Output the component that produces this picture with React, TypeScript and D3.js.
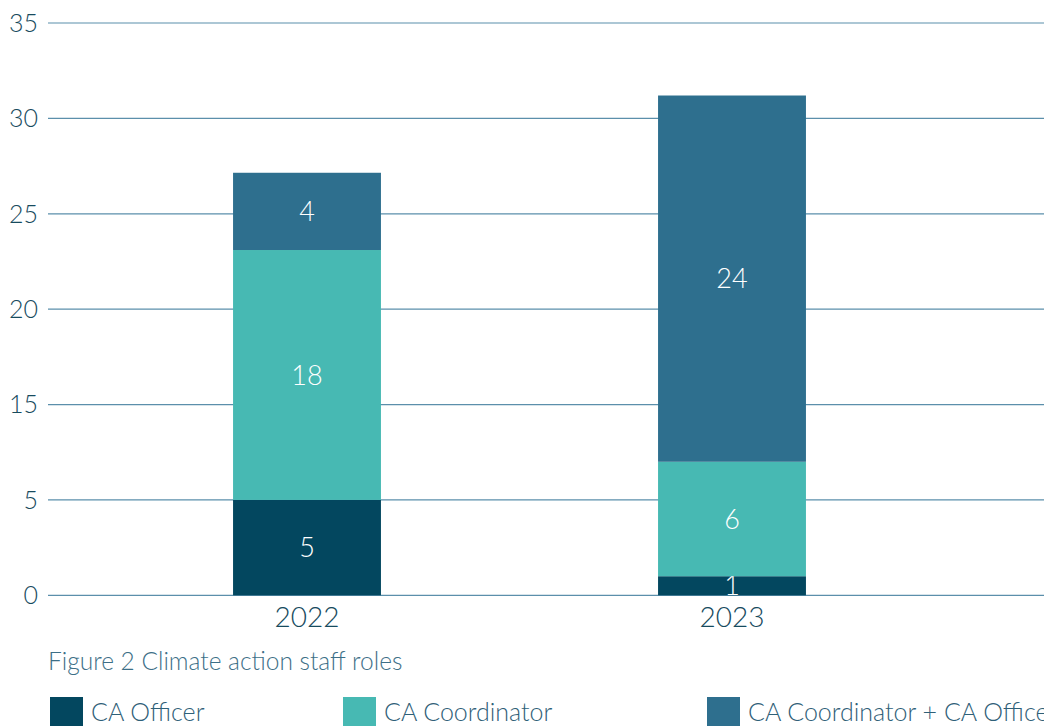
import React from "react";
import * as d3 from "d3";

const years = ["2022", "2023"];
const officer = [5, 1];
const coordinator = [18, 6];
const both = [4, 24];
const yTicks = [0, 5, 15, 20, 25, 30, 35];
const seriesNames = ["CA Officer", "CA Coordinator", "CA Coordinator + CA Officer"];
const seriesColors = ["#03475f", "#47b9b3", "#2e6f8e"];

const W = 1044;
const H = 726;
const y0 = 595.3;
const step = 95.38;
const FONT = "Lato, 'Open Sans', sans-serif";

export default function App() {
  // designer's broken axis: ticks evenly spaced although "10" is skipped
  const y = d3
    .scaleLinear()
    .domain([0, 7, 15, 35])
    .range([y0, y0 - 1.4 * step, y0 - 2 * step, y0 - 6.05 * step]);

  const x = d3
    .scaleBand<string>()
    .domain(years)
    .range([94.5, 944.5])
    .paddingInner(0.652)
    .paddingOuter(0.326);

  const rows = years.map((yr, i) => ({
    year: yr,
    officer: officer[i],
    coordinator: coordinator[i],
    both: both[i],
  }));
  const keys = ["officer", "coordinator", "both"];
  const stack = d3.stack<any>().keys(keys)(rows);

  const tickY = (t: number, i: number) => y0 - i * step;

  return (
    <svg
      width={W}
      height={H}
      style={{ position: "absolute", left: 0, top: 0, background: "#fff" }}
      fontFamily={FONT}
    >
      {yTicks.map((t, i) => (
        <g key={t}>
          <line x1={48} x2={W} y1={tickY(t, i)} y2={tickY(t, i)} stroke="#5b8fab" strokeWidth={1.2} />
          <text
            x={38}
            y={tickY(t, i)}
            dy="0.35em"
            textAnchor="end"
            fontSize={25}
            fontWeight={300}
            fill="#174b5e"
          >
            {t}
          </text>
        </g>
      ))}
      {stack.map((layer, li) =>
        layer.map((d, i) => {
          const yr = years[i];
          const top = y(d[1]);
          const bot = y(d[0]);
          const val = d[1] - d[0];
          return (
            <g key={`${li}-${i}`}>
              <rect
                x={x(yr)}
                y={top}
                width={x.bandwidth()}
                height={bot - top}
                fill={seriesColors[li]}
              />
              <text
                x={(x(yr) as number) + x.bandwidth() / 2}
                y={(top + bot) / 2}
                dy="0.36em"
                textAnchor="middle"
                fontSize={27}
                fontWeight={300}
                fill="#ffffff"
              >
                {val}
              </text>
            </g>
          );
        })
      )}
      {years.map((yr) => (
        <text
          key={yr}
          x={(x(yr) as number) + x.bandwidth() / 2}
          y={627}
          textAnchor="middle"
          fontSize={28}
          fontWeight={300}
          fill="#174b5e"
        >
          {yr}
        </text>
      ))}
      <text x={48} y={670} fontSize={24.5} fontWeight={300} fill="#3d6f87">
        Figure 2 Climate action staff roles
      </text>
      {seriesNames.map((n, i) => {
        const lx = [50, 343, 707][i];
        return (
          <g key={n}>
            <rect x={lx} y={697} width={33} height={33} fill={seriesColors[i]} />
            <text x={lx + 41} y={721} fontSize={25} fontWeight={300} fill="#2f6078">
              {n}
            </text>
          </g>
        );
      })}
    </svg>
  );
}
